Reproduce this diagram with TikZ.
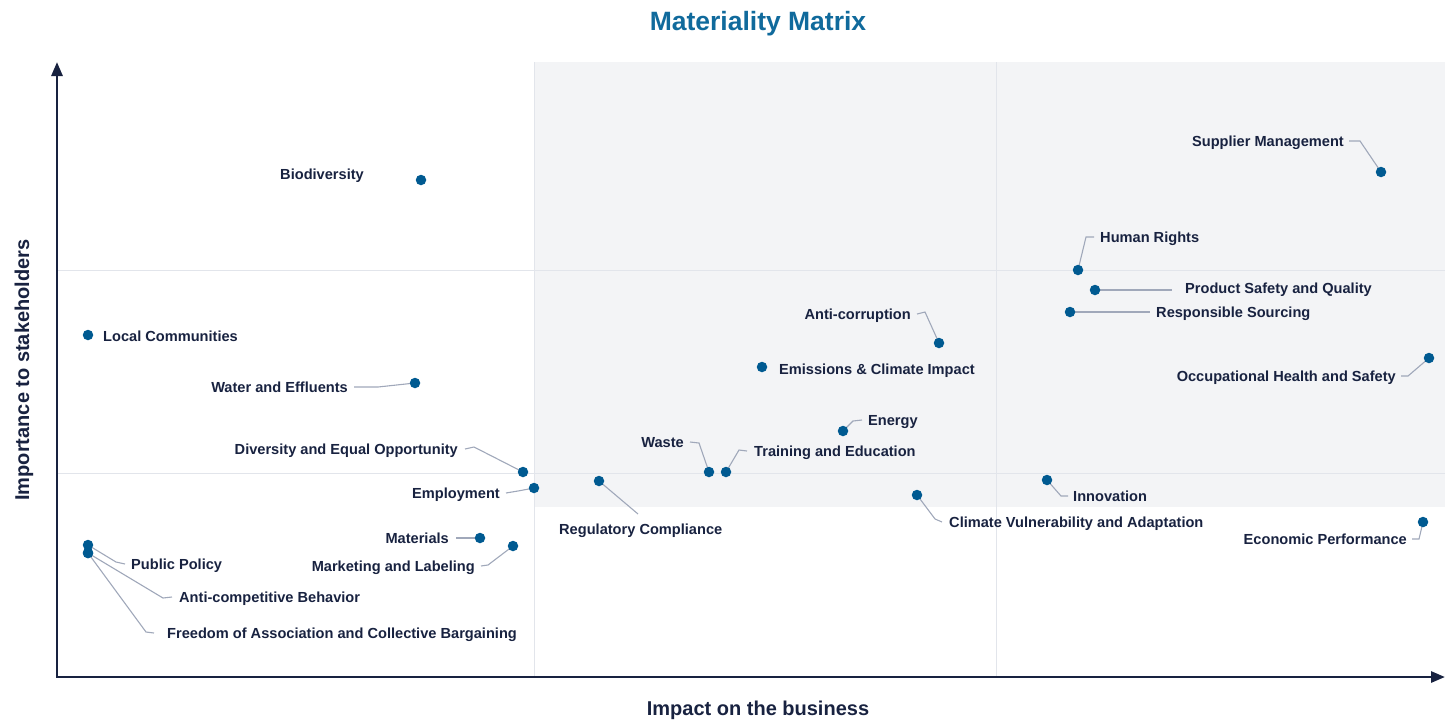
\documentclass[tikz,border=0pt]{standalone}
\usepackage{fontspec}
\setmainfont{Liberation Sans}
\usetikzlibrary{arrows.meta}
\definecolor{dotblue}{RGB}{0,90,145}
\definecolor{navy}{RGB}{24,34,64}
\definecolor{titleblue}{RGB}{16,106,156}
\definecolor{leadgray}{RGB}{160,168,186}
\definecolor{gridgray}{RGB}{226,229,235}
\definecolor{panel}{RGB}{243,244,246}

\begin{document}
\begin{tikzpicture}[x=1pt,y=-1pt,
    dot/.style={circle,fill=dotblue,inner sep=0pt,minimum size=10.5pt},
    lbl/.style={inner sep=0pt,text height=10.5pt,text depth=0pt,text=navy,
      font=\fontsize{14.6}{16}\selectfont\bfseries},
    lead/.style={draw=leadgray,line width=1.1pt},
    grid/.style={draw=gridgray,line width=1pt},
    axis/.style={draw=navy,line width=2.8pt,-{Triangle[length=14pt,width=11pt]}}]
\useasboundingbox (0,0) rectangle (1445,724);
\fill[panel] (534,62) rectangle (1445,507); % shaded band
\draw[grid] (534,62) -- (534,677);
\draw[grid] (996,62) -- (996,677);
\draw[grid] (58,270) -- (1445,270);
\draw[grid] (58,473) -- (1445,473);
\draw[axis] (57,677) -- (57,62);
\draw[axis] (56,677) -- (1445,677);
\node[text=titleblue,font=\fontsize{26.5}{30}\selectfont\bfseries] (title) at (758,24) {Materiality Matrix};
\node[text=navy,font=\fontsize{20}{24}\selectfont\bfseries] (xlab) at (758,710) {Impact on the business};
\node[text=navy,font=\fontsize{20}{24}\selectfont\bfseries,rotate=90] (ylab) at (24,370) {Importance to stakeholders};

% topics
\node[dot] (bio) at (421,180) {};
\node[dot] (lc) at (88,335) {};
\node[dot] (eci) at (762,367) {};

% labels
\node[lbl,anchor=east] (bioT) at (364,174) {Biodiversity};
\node[lbl,anchor=east] (supT) at (1344,141) {Supplier Management};
\node[lbl,anchor=west] (hrT) at (1100,237) {Human Rights};
\node[lbl,anchor=west] (psqT) at (1185,288) {Product Safety and Quality};
\node[lbl,anchor=west] (rsT) at (1156,312) {Responsible Sourcing};
\node[lbl,anchor=east] (ohsT) at (1396,376) {Occupational Health and Safety};
\node[lbl,anchor=west] (lcT) at (103,336) {Local Communities};
\node[lbl,anchor=east] (weT) at (348,387) {Water and Effluents};
\node[lbl,anchor=east] (deoT) at (458,449) {Diversity and Equal Opportunity};
\node[lbl,anchor=east] (empT) at (500,493) {Employment};
\node[lbl,anchor=west] (regT) at (559,529) {Regulatory Compliance};
\node[lbl,anchor=east] (wasT) at (684,442) {Waste};
\node[lbl,anchor=west] (taeT) at (754,451) {Training and Education};
\node[lbl,anchor=west] (eneT) at (868,420) {Energy};
\node[lbl,anchor=east] (acT) at (911,314) {Anti-corruption};
\node[lbl,anchor=west] (eciT) at (779,369) {Emissions \& Climate Impact};
\node[lbl,anchor=west] (cvaT) at (949,522) {Climate Vulnerability and Adaptation};
\node[lbl,anchor=west] (innT) at (1073,496) {Innovation};
\node[lbl,anchor=east] (ecoT) at (1407,539) {Economic Performance};
\node[lbl,anchor=east] (matT) at (449,538) {Materials};
\node[lbl,anchor=east] (malT) at (475,566) {Marketing and Labeling};
\node[lbl,anchor=west] (ppT) at (131,564) {Public Policy};
\node[lbl,anchor=west] (acbT) at (179,597) {Anti-competitive Behavior};
\node[lbl,anchor=west] (faT) at (167,633) {Freedom of Association and Collective Bargaining};
\coordinate (regE) at (638,514);

% leader lines, drawn before the dots that sit on them
\coordinate (sup) at (1381,172);
\coordinate (hr) at (1078,270);
\coordinate (psq) at (1095,290);
\coordinate (rs) at (1070,312);
\coordinate (ohs) at (1429,358);
\coordinate (we) at (415,383);
\coordinate (deo) at (523,472);
\coordinate (emp) at (534,488);
\coordinate (reg) at (599,481);
\coordinate (was) at (709,472);
\coordinate (tae) at (726,472);
\coordinate (ene) at (843,431);
\coordinate (ac) at (939,343);
\coordinate (cva) at (917,495);
\coordinate (inn) at (1047,480);
\coordinate (eco) at (1423,522);
\coordinate (mat) at (480,538);
\coordinate (mal) at (513,546);
\coordinate (pp) at (88,545);
\coordinate (acb) at (88,553);
\coordinate (fa) at (88,553);
\draw[lead] (sup) -- (1360,141) -- ([xshift=5]supT.east);
\draw[lead] (hr) -- (1086,237) -- ([xshift=-6]hrT.west);
\draw[lead] (psq) -- ([xshift=-13]psqT.west |- psq);
\draw[lead] (rs) -- ([xshift=-6]rsT.west);
\draw[lead] (ohs) -- (1408,376) -- ([xshift=5]ohsT.east);
\draw[lead] (we) -- (378,387) -- ([xshift=6]weT.east);
\draw[lead] (deo) -- (474,447) -- ([xshift=7]deoT.east);
\draw[lead] (emp) -- (518,491) -- ([xshift=6]empT.east);
\draw[lead] (reg) -- (regE);
\draw[lead] (was) -- (699,443) -- ([xshift=6]wasT.east);
\draw[lead] (tae) -- (739,450) -- ([xshift=-7]taeT.west);
\draw[lead] (ene) -- (853,421) -- ([xshift=-6]eneT.west);
\draw[lead] (ac) -- (925,312) -- ([xshift=6]acT.east);
\draw[lead] (cva) -- (935,519) -- ([xshift=-7]cvaT.west);
\draw[lead] (inn) -- (1061,496) -- ([xshift=-5]innT.west);
\draw[lead] (eco) -- (1419,539) -- ([xshift=5]ecoT.east);
\draw[lead] (mat) -- ([xshift=7]matT.east);
\draw[lead] (mal) -- (488,565) -- ([xshift=6]malT.east);
\draw[lead] (pp) -- (116,562) -- ([xshift=-6]ppT.west);
\draw[lead] (acb) -- (163,598) -- ([xshift=-7]acbT.west);
\draw[lead] (fa) -- (146,632) -- ([xshift=-13]faT.west);
\foreach \d in {sup,hr,psq,rs,ohs,we,deo,emp,reg,was,tae,ene,ac,cva,inn,eco,mat,mal,pp,acb,fa}
  \node[dot] (\d dot) at (\d) {};
\end{tikzpicture}
\end{document}
